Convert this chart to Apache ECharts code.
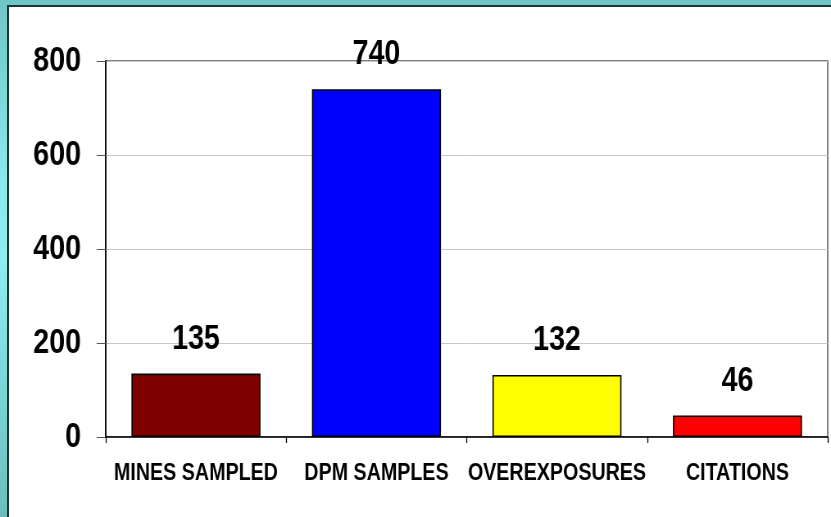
<!DOCTYPE html>
<html>
<head>
<meta charset="utf-8">
<script src="https://cdn.jsdelivr.net/npm/echarts@6/dist/echarts.min.js"></script>
<style>
html,body{margin:0;padding:0;width:831px;height:517px;overflow:hidden;}
body{background:linear-gradient(to bottom,#6fc5c5 0%,#8aeaea 35%,#8eeeee 50%,#7ad6d6 75%,#6cbcbc 100%);position:relative;}
#frame{position:absolute;left:7px;top:5px;right:0;bottom:0;background:#fff;border-left:2px solid #1f3434;border-top:2px solid #1f3434;}
#chart{position:absolute;left:0;top:0;width:1014px;height:517px;transform:scaleX(0.8195);transform-origin:0 0;}
</style>
</head>
<body>
<div id="frame"></div>
<div id="chart"></div>
<script>
var categories = ['MINES SAMPLED', 'DPM SAMPLES', 'OVEREXPOSURES', 'CITATIONS'];
var values = [135, 740, 132, 46];
var barColors = ['#800000', '#0000FF', '#FFFF00', '#FF0000'];
var yTicks = [0, 200, 400, 600, 800];

var font = '"Liberation Sans", Arial, sans-serif';
var chart = echarts.init(document.getElementById('chart'), null, {renderer: 'canvas'});
chart.setOption({
  animation: false,
  backgroundColor: 'transparent',
  grid: {left: 129, top: 61, right: 4, bottom: 80, show: true, borderColor: '#808080', borderWidth: 2, containLabel: false},
  xAxis: {
    type: 'category',
    data: categories,
    axisLine: {lineStyle: {color: '#000', width: 1.5}},
    axisTick: {show: true, length: 6, lineStyle: {color: '#000', width: 1.3}},
    axisLabel: {color: '#000', fontFamily: font, fontWeight: 'bold', fontSize: 24, margin: 24, interval: 0}
  },
  yAxis: {
    type: 'value',
    min: yTicks[0],
    max: yTicks[yTicks.length - 1],
    interval: 200,
    axisLine: {show: true, lineStyle: {color: '#000', width: 1.8}},
    axisTick: {show: true, length: 11, lineStyle: {color: '#555'}},
    splitLine: {show: true, lineStyle: {color: '#c8c8c8', width: 1}},
    axisLabel: {color: '#000', fontFamily: font, fontWeight: 'bold', fontSize: 35, margin: 30}
  },
  series: [{
    type: 'bar',
    data: values.map(function (v, i) {
      return {value: v, itemStyle: {color: barColors[i]}};
    }),
    barCategoryGap: '28.5%',
    itemStyle: {borderColor: '#000', borderWidth: 1.6},
    label: {show: true, position: 'top', distance: 17, color: '#000', fontFamily: font, fontWeight: 'bold', fontSize: 35}
  }]
});
</script>
</body>
</html>
